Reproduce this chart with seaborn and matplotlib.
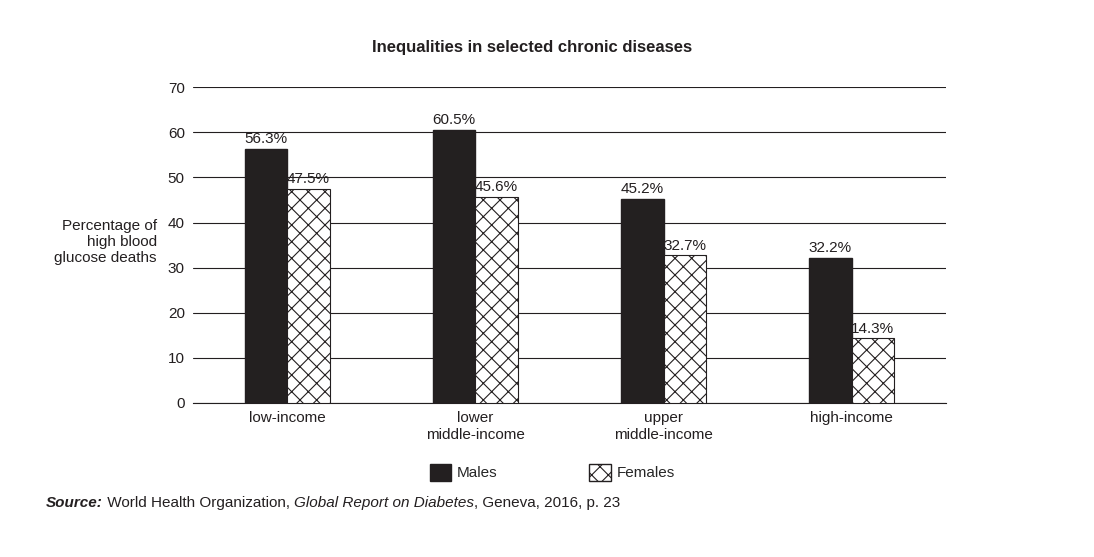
import numpy as np
import pandas as pd
import matplotlib
matplotlib.use("Agg")
import matplotlib.pyplot as plt
from matplotlib.patches import Patch
import seaborn as sns

categories = ["low-income", "lower\nmiddle-income", "upper\nmiddle-income", "high-income"]
males = [56.3, 60.5, 45.2, 32.2]
females = [47.5, 45.6, 32.7, 14.3]

df = pd.DataFrame({
    "income": categories * 2,
    "sex": ["Males"] * 4 + ["Females"] * 4,
    "value": males + females,
})

sns.set_style("white")
plt.rcParams["font.family"] = ["Liberation Sans", "DejaVu Sans"]
plt.rcParams["hatch.linewidth"] = 0.8

fig = plt.figure(figsize=(10.94, 5.57), dpi=100)
ax = fig.add_axes([0.1765, 0.2765, 0.688, 0.567])

dark = "#231f20"
sns.barplot(data=df, x="income", y="value", hue="sex", ax=ax, width=0.45, gap=0,
            palette={"Males": dark, "Females": "white"}, legend=False, zorder=3)

for bar in ax.containers[1]:
    bar.set_hatch("xx")
    bar.set_edgecolor(dark)
    bar.set_linewidth(0.8)
for bar in ax.containers[0]:
    bar.set_edgecolor(dark)

for cont in ax.containers:
    ax.bar_label(cont, labels=[f"{v:.1f}%" for v in cont.datavalues],
                 padding=2, fontsize=11, color=dark)

ax.set_ylim(0, 70)
ax.set_xlim(-0.5, 3.5)
ax.set_yticks(range(0, 71, 10))
ax.yaxis.grid(True, color=dark, linewidth=0.8, zorder=0)
ax.set_axisbelow(True)
for s in ["top", "right", "left"]:
    ax.spines[s].set_visible(False)
ax.spines["bottom"].set_color(dark)
ax.spines["bottom"].set_linewidth(0.8)
ax.tick_params(axis="both", length=0, labelsize=11, colors=dark, pad=6)
ax.set_xlabel("")
ax.set_ylabel("Percentage of\nhigh blood\nglucose deaths", rotation=0, ha="right",
              va="center", fontsize=11, color=dark)
ax.yaxis.set_label_coords(-0.048, 0.51)

fig.text(0.486, 0.915, "Inequalities in selected chronic diseases", ha="center",
         va="center", fontsize=12, fontweight="bold", color=dark)

handles = [Patch(facecolor=dark, edgecolor=dark, label="Males"),
           Patch(facecolor="white", edgecolor=dark, hatch="xx", label="Females")]
fig.legend(handles=handles, loc="center", bbox_to_anchor=(0.505, 0.152), ncol=2,
           frameon=False, fontsize=11, columnspacing=6, handlelength=1.4,
           handleheight=1.4, handletextpad=0.4)

# source line built from consecutive text pieces
renderer = fig.canvas.get_renderer()
x = 0.042
pieces = [("Source:", dict(fontweight="bold", style="italic")),
          (" World Health Organization, ", {}),
          ("Global Report on Diabetes", dict(style="italic")),
          (", Geneva, 2016, p. 23", {})]
for txt, kw in pieces:
    t = fig.text(x, 0.097, txt, ha="left", va="center", fontsize=11, color=dark, **kw)
    bb = t.get_window_extent(renderer)
    x += bb.width / fig.bbox.width

fig.savefig("out.png", dpi=100)
